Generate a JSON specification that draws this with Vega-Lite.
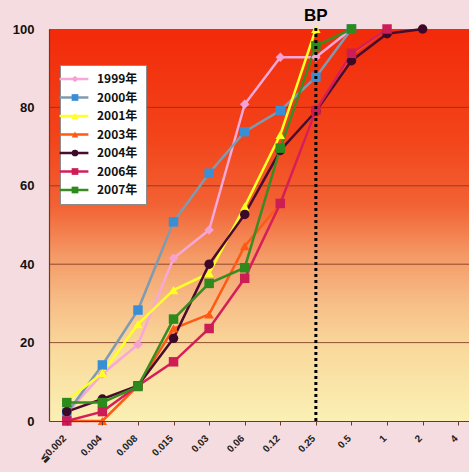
{
  "$schema": "https://vega.github.io/schema/vega-lite/v6.json",
  "width": 420,
  "height": 392,
  "autosize": {"type": "none"},
  "padding": {"left": 49, "right": 0, "top": 29, "bottom": 51},
  "background": "#f5dce0",
  "config": {
    "view": {"stroke": null},
    "font": "Liberation Sans"
  },
  "datasets": {
    "pts": [
      {"series": "1999年", "conc": "≦0.002", "i": 0, "v": 2},
      {"series": "1999年", "conc": "0.004", "i": 1, "v": 12},
      {"series": "1999年", "conc": "0.008", "i": 2, "v": 19.5},
      {"series": "1999年", "conc": "0.015", "i": 3, "v": 41.5},
      {"series": "1999年", "conc": "0.03", "i": 4, "v": 48.7},
      {"series": "1999年", "conc": "0.06", "i": 5, "v": 80.8},
      {"series": "1999年", "conc": "0.12", "i": 6, "v": 92.8},
      {"series": "1999年", "conc": "0.25", "i": 7, "v": 92.8},
      {"series": "1999年", "conc": "0.5", "i": 8, "v": 100},
      {"series": "2000年", "conc": "≦0.002", "i": 0, "v": 2},
      {"series": "2000年", "conc": "0.004", "i": 1, "v": 14.3},
      {"series": "2000年", "conc": "0.008", "i": 2, "v": 28.3},
      {"series": "2000年", "conc": "0.015", "i": 3, "v": 50.8},
      {"series": "2000年", "conc": "0.03", "i": 4, "v": 63.2},
      {"series": "2000年", "conc": "0.06", "i": 5, "v": 73.8},
      {"series": "2000年", "conc": "0.12", "i": 6, "v": 79.2},
      {"series": "2000年", "conc": "0.25", "i": 7, "v": 87.7},
      {"series": "2000年", "conc": "0.5", "i": 8, "v": 100},
      {"series": "2001年", "conc": "≦0.002", "i": 0, "v": 5.2},
      {"series": "2001年", "conc": "0.004", "i": 1, "v": 12.2},
      {"series": "2001年", "conc": "0.008", "i": 2, "v": 24.7},
      {"series": "2001年", "conc": "0.015", "i": 3, "v": 33.4},
      {"series": "2001年", "conc": "0.03", "i": 4, "v": 37.7},
      {"series": "2001年", "conc": "0.06", "i": 5, "v": 54.7},
      {"series": "2001年", "conc": "0.12", "i": 6, "v": 73},
      {"series": "2001年", "conc": "0.25", "i": 7, "v": 100},
      {"series": "2003年", "conc": "≦0.002", "i": 0, "v": 0},
      {"series": "2003年", "conc": "0.004", "i": 1, "v": 0},
      {"series": "2003年", "conc": "0.008", "i": 2, "v": 9},
      {"series": "2003年", "conc": "0.015", "i": 3, "v": 23.6},
      {"series": "2003年", "conc": "0.03", "i": 4, "v": 27.2},
      {"series": "2003年", "conc": "0.06", "i": 5, "v": 44.6},
      {"series": "2003年", "conc": "0.12", "i": 6, "v": 55.5},
      {"series": "2003年", "conc": "0.25", "i": 7, "v": 79},
      {"series": "2003年", "conc": "0.5", "i": 8, "v": 93.5},
      {"series": "2003年", "conc": "1", "i": 9, "v": 100},
      {"series": "2004年", "conc": "≦0.002", "i": 0, "v": 2.4},
      {"series": "2004年", "conc": "0.004", "i": 1, "v": 5.6},
      {"series": "2004年", "conc": "0.008", "i": 2, "v": 9},
      {"series": "2004年", "conc": "0.015", "i": 3, "v": 21.1},
      {"series": "2004年", "conc": "0.03", "i": 4, "v": 40},
      {"series": "2004年", "conc": "0.06", "i": 5, "v": 52.7},
      {"series": "2004年", "conc": "0.12", "i": 6, "v": 69},
      {"series": "2004年", "conc": "0.25", "i": 7, "v": 79},
      {"series": "2004年", "conc": "0.5", "i": 8, "v": 91.9},
      {"series": "2004年", "conc": "1", "i": 9, "v": 98.8},
      {"series": "2004年", "conc": "2", "i": 10, "v": 100},
      {"series": "2006年", "conc": "≦0.002", "i": 0, "v": 0},
      {"series": "2006年", "conc": "0.004", "i": 1, "v": 2.4},
      {"series": "2006年", "conc": "0.008", "i": 2, "v": 9},
      {"series": "2006年", "conc": "0.015", "i": 3, "v": 15.1},
      {"series": "2006年", "conc": "0.03", "i": 4, "v": 23.6},
      {"series": "2006年", "conc": "0.06", "i": 5, "v": 36.4},
      {"series": "2006年", "conc": "0.12", "i": 6, "v": 55.5},
      {"series": "2006年", "conc": "0.25", "i": 7, "v": 79.2},
      {"series": "2006年", "conc": "0.5", "i": 8, "v": 93.8},
      {"series": "2006年", "conc": "1", "i": 9, "v": 100},
      {"series": "2007年", "conc": "≦0.002", "i": 0, "v": 4.7},
      {"series": "2007年", "conc": "0.004", "i": 1, "v": 4.7},
      {"series": "2007年", "conc": "0.008", "i": 2, "v": 8.8},
      {"series": "2007年", "conc": "0.015", "i": 3, "v": 26},
      {"series": "2007年", "conc": "0.03", "i": 4, "v": 35.1},
      {"series": "2007年", "conc": "0.06", "i": 5, "v": 39.1},
      {"series": "2007年", "conc": "0.12", "i": 6, "v": 69.6},
      {"series": "2007年", "conc": "0.25", "i": 7, "v": 95.7},
      {"series": "2007年", "conc": "0.5", "i": 8, "v": 100}
    ]
  },
  "layer": [
    {
      "data": {"values": [{"lo": 0, "hi": 100}]},
      "mark": {
        "type": "rect",
        "color": {
          "gradient": "linear", "x1": 0, "y1": 0, "x2": 0, "y2": 1,
          "stops": [
            {"offset": 0, "color": "#f22a0a"},
            {"offset": 0.28, "color": "#f3441a"},
            {"offset": 0.45, "color": "#f26234"},
            {"offset": 0.58, "color": "#f49a66"},
            {"offset": 0.7, "color": "#f7be88"},
            {"offset": 0.82, "color": "#f9da9c"},
            {"offset": 1, "color": "#fbf0b4"}
          ]
        }
      },
      "encoding": {
        "y": {"field": "hi", "type": "quantitative", "scale": {"domain": [0, 100]},
          "axis": {"values": [0, 20, 40, 60, 80, 100], "grid": false, "ticks": false, "labelPadding": 15,
            "labelFont": "Liberation Sans", "labelFontWeight": "bold", "labelFontSize": 13, "labelColor": "#111",
            "domainColor": "#6a3a2a", "domainWidth": 1.2, "title": null, "zindex": 1}},
        "y2": {"field": "lo"}
      }
    },
    {
      "data": {"values": [{"g": 20}, {"g": 40}, {"g": 60}, {"g": 80}]},
      "mark": {"type": "rule", "color": "#7e3a22", "strokeWidth": 1, "opacity": 0.85},
      "encoding": {"y": {"field": "g", "type": "quantitative"}}
    },
    {
      "data": {"name": "pts"},
      "mark": {"type": "line", "strokeWidth": 2.5},
      "encoding": {
        "x": {"field": "conc", "type": "ordinal",
          "scale": {"type": "point", "domain": ["≦0.002", "0.004", "0.008", "0.015", "0.03", "0.06", "0.12", "0.25", "0.5", "1", "2", "4"], "range": [0, 427]},
          "axis": {"title": null, "labelAngle": -45, "labelFont": "Liberation Sans", "labelFontWeight": "bold", "labelFontSize": 10,
            "labelColor": "#222", "labelPadding": 8, "labelOffset": -6, "tickSize": 4, "tickColor": "#6a3a2a",
            "domainColor": "#6a3a2a", "domainWidth": 1.2, "grid": false, "zindex": 1}},
        "y": {"field": "v", "type": "quantitative"},
        "order": {"field": "i"},
        "color": {"field": "series", "type": "nominal",
          "scale": {"domain": ["1999年", "2000年", "2001年", "2003年", "2004年", "2006年", "2007年"],
            "range": ["#f7a8d8", "#7f9bb0", "#ffff2a", "#ff5a14", "#4a0c2e", "#d61e58", "#3a8c22"]},
          "legend": {"title": null, "orient": "none", "legendX": 11, "legendY": 36, "padding": 8,
            "fillColor": "#ffffff", "strokeColor": "#8c8c8c", "symbolType": "M-3.6,0L3.6,0", "symbolSize": 64,
            "symbolStrokeWidth": 2.5, "labelOffset": 17, "labelFont": "Noto Sans CJK JP", "labelFontWeight": "bold",
            "labelFontSize": 12, "labelColor": "#111", "rowPadding": 6.5, "zindex": 1}}
      }
    },
    {
      "data": {"name": "pts"},
      "mark": {"type": "point", "filled": true, "size": 90, "opacity": 1},
      "encoding": {
        "x": {"field": "conc", "type": "ordinal"},
        "y": {"field": "v", "type": "quantitative"},
        "color": {"field": "series", "type": "nominal",
          "scale": {"domain": ["1999年", "2000年", "2001年", "2003年", "2004年", "2006年", "2007年"],
            "range": ["#f7a0d4", "#3a8ed6", "#ffff20", "#ff5a14", "#3c0a28", "#cc1e55", "#2e8a1c"]},
          "legend": {"title": null, "orient": "none", "legendX": 12, "legendY": 36, "padding": 8,
            "fillColor": null, "strokeColor": null, "symbolSize": 45, "labelOffset": 13,
            "labelFont": "Noto Sans CJK JP", "labelFontWeight": "bold", "labelFontSize": 12,
            "labelExpr": "' '", "labelColor": "transparent", "rowPadding": 6.5, "zindex": 2}},
        "shape": {"field": "series", "type": "nominal",
          "scale": {"domain": ["1999年", "2000年", "2001年", "2003年", "2004年", "2006年", "2007年"],
            "range": ["diamond", "square", "triangle-up", "triangle-up", "circle", "square", "square"]}}
      }
    },
    {
      "data": {"values": [{"bp": "0.25", "lo": 0, "hi": 100.8, "t": "BP"}]},
      "mark": {"type": "rule", "color": "#000000", "strokeWidth": 3, "strokeDash": [3, 3]},
      "encoding": {
        "x": {"field": "bp", "type": "ordinal"},
        "y": {"field": "lo", "type": "quantitative"},
        "y2": {"field": "hi"}
      }
    },
    {
      "data": {"values": [{"bp": "0.25", "hi": 100, "t": "BP"}]},
      "mark": {"type": "text", "font": "Liberation Sans", "fontWeight": "bold", "fontSize": 17, "dy": -8, "baseline": "alphabetic", "color": "#000000"},
      "encoding": {
        "x": {"field": "bp", "type": "ordinal"},
        "y": {"field": "hi", "type": "quantitative"},
        "text": {"field": "t"}
      }
    }
  ],
  "resolve": {"scale": {"color": "independent"}, "legend": {"color": "independent", "shape": "independent"}}
}
